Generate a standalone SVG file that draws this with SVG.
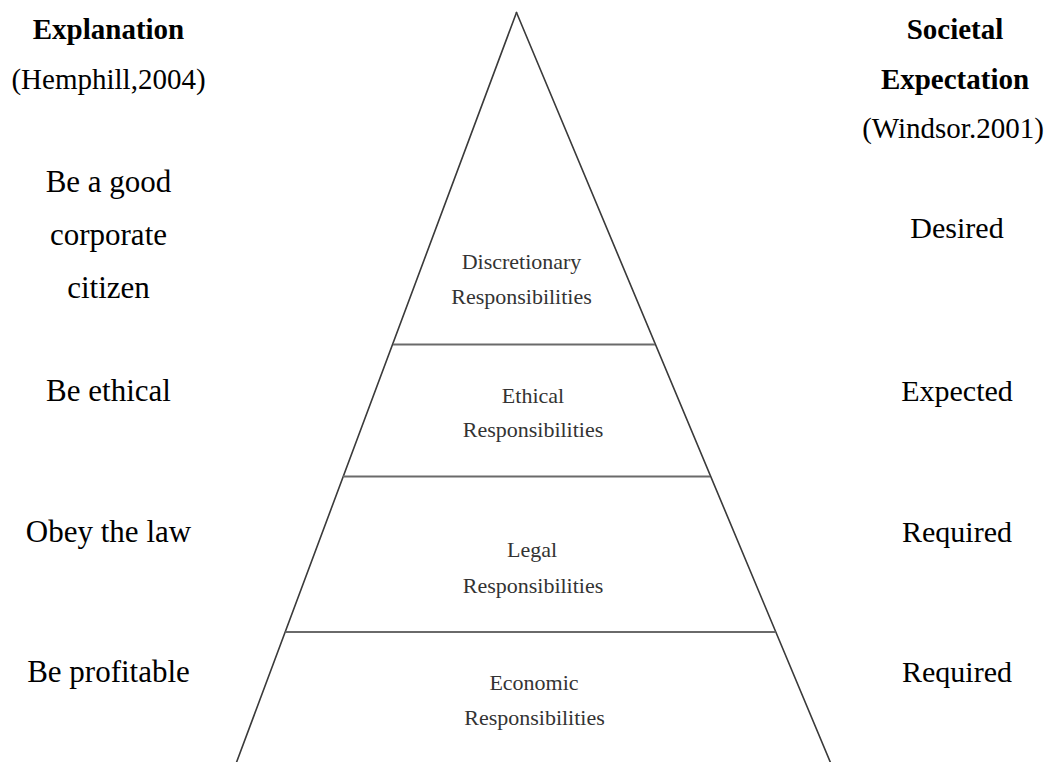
<svg xmlns="http://www.w3.org/2000/svg" width="1050" height="762" viewBox="0 0 1050 762">
<style>
.hd{font-family:"Liberation Serif","Times New Roman",serif;font-size:29px;font-weight:bold;fill:#000;text-anchor:middle}
.ref{font-family:"Liberation Serif","Times New Roman",serif;font-size:29px;fill:#000;text-anchor:middle}
.lt{font-family:"Liberation Serif","Times New Roman",serif;font-size:31px;fill:#000;text-anchor:middle}
.rt{font-family:"Liberation Serif","Times New Roman",serif;font-size:30px;fill:#000;text-anchor:middle}
.pt{font-family:"Liberation Serif","Times New Roman",serif;font-size:22px;fill:#333;text-anchor:middle}
.side{stroke:#3a3a3a;stroke-width:1.6;fill:none;stroke-linecap:round}
.tier{stroke:#6a6a6a;stroke-width:2.2;fill:none}
</style>
<rect width="1050" height="762" fill="#fff"/>
<g id="connectors">
<line class="side" x1="516.5" y1="12.5" x2="235.5" y2="765"/>
<line class="side" x1="516.5" y1="12.5" x2="831.5" y2="765"/>
<line class="tier" x1="393" y1="344.5" x2="655" y2="344.5"/>
<line class="tier" x1="343" y1="476.5" x2="710" y2="476.5"/>
<line class="tier" x1="285.5" y1="632" x2="775.5" y2="632"/>
</g>
<g id="header-left">
<text class="hd" x="108.5" y="39">Explanation</text>
<text class="ref" x="108.5" y="89">(Hemphill,2004)</text>
</g>
<g id="header-right">
<text class="hd" x="955" y="39">Societal</text>
<text class="hd" x="955" y="89">Expectation</text>
<text class="ref" x="953" y="138">(Windsor.2001)</text>
</g>
<g id="discretionary">
<text class="lt" x="108.5" y="192">Be a good</text>
<text class="lt" x="108.5" y="245">corporate</text>
<text class="lt" x="108.5" y="298">citizen</text>
<text class="pt" x="521.5" y="269">Discretionary</text>
<text class="pt" x="521.5" y="304">Responsibilities</text>
<text class="rt" x="957" y="238">Desired</text>
</g>
<g id="ethical">
<text class="lt" x="108.5" y="401">Be ethical</text>
<text class="pt" x="533" y="403">Ethical</text>
<text class="pt" x="533" y="437">Responsibilities</text>
<text class="rt" x="957" y="401">Expected</text>
</g>
<g id="legal">
<text class="lt" x="108.5" y="542">Obey the law</text>
<text class="pt" x="532" y="557">Legal</text>
<text class="pt" x="533" y="593">Responsibilities</text>
<text class="rt" x="957" y="542">Required</text>
</g>
<g id="economic">
<text class="lt" x="108.5" y="682">Be profitable</text>
<text class="pt" x="534" y="690">Economic</text>
<text class="pt" x="534.5" y="725">Responsibilities</text>
<text class="rt" x="957" y="682">Required</text>
</g>
</svg>
